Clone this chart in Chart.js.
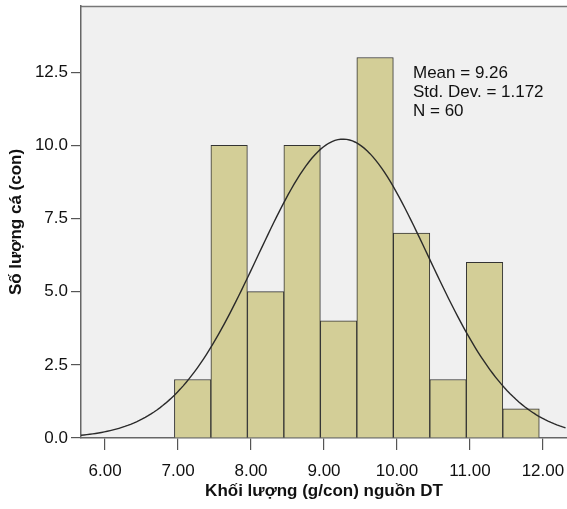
<!DOCTYPE html>
<html><head>
<meta charset="utf-8">
<title>Khối lượng (g/con) nguồn DT</title>
<script src="https://cdn.jsdelivr.net/npm/chart.js"></script>
<style>
  html, body { margin:0; padding:0; background:#fff }
  canvas { display:block }
</style>
</head><body>
<canvas id="chart" width="567" height="509"></canvas>
<script>
// histogram bins (centres) and counts
const binCenters = [7.2, 7.7, 8.2, 8.7, 9.2, 9.7, 10.2, 10.7, 11.2, 11.7];
const binCounts  = [2, 10, 5, 10, 4, 13, 7, 2, 6, 1];
const binWidth = 0.5;
const xTicks = [6, 7, 8, 9, 10, 11, 12];
const yTicks = [0, 2.5, 5, 7.5, 10, 12.5];
const statLabels = ['Mean = 9.26', 'Std. Dev. = 1.172', 'N = 60'];
const mean = 9.26, sd = 1.172, n = 60;

// normal curve overlay that SPSS draws from the stats above
const xMin = 5.67, xMax = 12.33;
const curve = [];
for (let x = xMin; x <= xMax + 1e-9; x += 0.04) {
  const z = (x - mean) / sd;
  curve.push({ x, y: n * binWidth * Math.exp(-0.5 * z * z) / (sd * Math.sqrt(2 * Math.PI)) });
}

const FONT = "'Liberation Sans', Arial, sans-serif";

const frame = {
  id: 'frame',
  beforeDraw(c) {
    const { ctx, chartArea: a } = c;
    ctx.save();
    ctx.fillStyle = '#f0f0f0';
    ctx.fillRect(a.left, a.top, a.right - a.left, a.bottom - a.top);
    ctx.strokeStyle = '#777';
    ctx.lineWidth = 1.5;
    ctx.beginPath();
    ctx.moveTo(a.left, a.top + 0.5);
    ctx.lineTo(a.right, a.top + 0.5);
    ctx.stroke();
    ctx.restore();
  },
  afterDraw(c) {
    const { ctx } = c;
    ctx.save();
    ctx.fillStyle = '#111';
    ctx.font = '17px ' + FONT;
    ctx.textBaseline = 'middle';
    statLabels.forEach((t, i) => ctx.fillText(t, 413, 73 + i * 19));
    ctx.restore();
  }
};

new Chart(document.getElementById('chart'), {
  type: 'bar',
  data: {
    datasets: [
      {
        type: 'line',
        data: curve,
        borderColor: '#2a2a2a',
        borderWidth: 1.4,
        pointRadius: 0,
        fill: false,
        tension: 0,
        order: 0
      },
      {
        type: 'bar',
        data: binCenters.map((x, i) => ({ x, y: binCounts[i] })),
        backgroundColor: '#d3ce97',
        borderColor: '#333',
        borderWidth: 1,
        barPercentage: 1,
        categoryPercentage: 1,
        order: 1
      }
    ]
  },
  options: {
    responsive: false,
    animation: false,
    devicePixelRatio: 1,
    layout: { padding: { left: 0, top: 6, right: 0, bottom: 0 } },
    plugins: { legend: { display: false }, tooltip: { enabled: false } },
    scales: {
      x: {
        type: 'linear',
        offset: false,
        min: xMin,
        max: xMax,
        afterBuildTicks: s => { s.ticks = xTicks.map(v => ({ value: v })); },
        afterFit: s => { s.height = 71; s.paddingLeft = 0; s.paddingRight = 0; },
        border: { display: true, color: '#666', width: 1.5 },
        grid: { offset: false, drawOnChartArea: false, drawTicks: true, tickLength: 12, color: '#555', lineWidth: 1.2 },
        ticks: {
          padding: 11,
          maxRotation: 0,
          color: '#111',
          font: { family: FONT, size: 17 },
          callback: v => Number(v).toFixed(2)
        },
        title: {
          display: true,
          text: 'Khối lượng (g/con) nguồn DT',
          color: '#111',
          font: { family: FONT, size: 17, weight: 'bold' },
          padding: { top: 0, bottom: 7 }
        }
      },
      y: {
        min: 0,
        max: 14.76,
        afterBuildTicks: s => { s.ticks = yTicks.map(v => ({ value: v })); },
        afterFit: s => { s.width = 81; s.paddingTop = 0; s.paddingBottom = 0; },
        border: { display: true, color: '#666', width: 1.5 },
        grid: { drawOnChartArea: false, drawTicks: true, tickLength: 10, color: '#555', lineWidth: 1.2 },
        ticks: {
          padding: 3,
          color: '#111',
          font: { family: FONT, size: 17 },
          callback: v => Number(v).toFixed(1)
        },
        title: {
          display: true,
          text: 'Số lượng cá (con)',
          color: '#111',
          font: { family: FONT, size: 17, weight: 'bold' },
          padding: { top: 6, bottom: 0 }
        }
      }
    }
  },
  plugins: [frame]
});
</script>
</body></html>
